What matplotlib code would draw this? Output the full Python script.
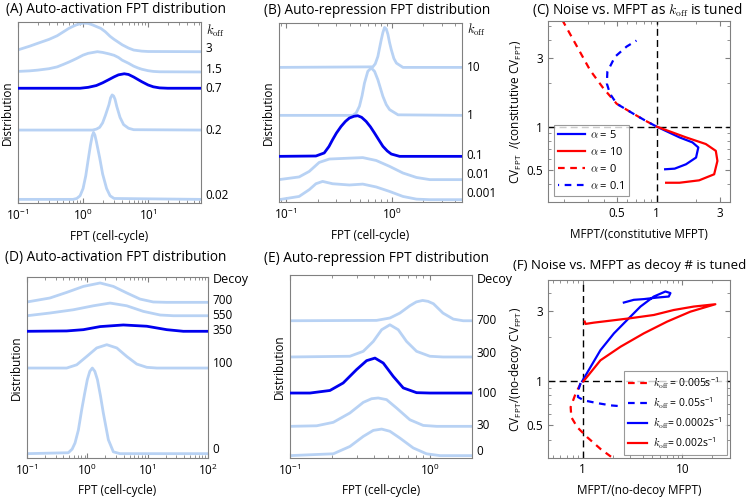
import numpy as np
import matplotlib
matplotlib.use('Agg')
import matplotlib.pyplot as plt
from matplotlib.transforms import blended_transform_factory
from matplotlib.ticker import FixedLocator, LogLocator, NullFormatter, FixedFormatter

plt.rcParams['font.family'] = ['Open Sans', 'DejaVu Sans']
plt.rcParams['mathtext.fontset'] = 'cm'
plt.rcParams['font.size'] = 8.5
plt.rcParams['axes.edgecolor'] = '0.5'
plt.rcParams['xtick.color'] = '0.5'
plt.rcParams['ytick.color'] = '0.5'
plt.rcParams['xtick.labelcolor'] = 'black'
plt.rcParams['ytick.labelcolor'] = 'black'

LIGHT = '#b8d2f4'
DARK = '#0000ee'

# ---------------- (A) auto-activation, k_off tuned ----------------
a_labels = ['0.02', '0.2', '0.7', '1.5', '3']
a_base = [2.0, 40.3, 63.4, 72.4, 83.6]
a_laby = [4.4, 40.3, 63.0, 73.5, 85.6]
a_x = [
    [0.1, 0.7, 0.8, 0.9, 1.0, 1.1, 1.2, 1.3, 1.38, 1.45, 1.52, 1.6, 1.8, 2.0, 2.3, 2.6, 3.0, 65],
    [0.1, 1.4, 1.6, 1.8, 2.0, 2.2, 2.5, 2.65, 2.8, 2.95, 3.1, 3.3, 3.7, 4.2, 5.0, 6.0, 65],
    [0.1, 0.9, 1.2, 1.6, 2, 2.5, 3, 3.5, 4.3, 5, 6, 7, 8, 10, 12, 15, 20, 65],
    [0.1, 0.15, 0.2, 0.3, 0.4, 0.5, 0.6, 0.7, 0.8, 1.0, 1.2, 1.66, 2, 2.5, 3, 3.5, 4, 5, 6, 7, 8, 10, 12, 15, 65],
    [0.1, 0.15, 0.2, 0.3, 0.4, 0.5, 0.6, 0.7, 0.8, 1.0, 1.2, 1.4, 1.6, 1.87, 2.2, 2.6, 3.0, 3.4, 4, 5, 6, 8, 10, 65],
]
a_h = [
    [0, 0, 0.5, 2, 6, 13, 22, 30, 35, 37, 35.5, 32, 23, 14, 6, 2, 0.5, 0],
    [0, 0, 0.5, 1.5, 4, 8, 14, 17.8, 19.4, 18.8, 17, 13, 7, 3, 1, 0.2, 0],
    [0, 0, 0.5, 1.5, 3, 4.8, 6.3, 7.4, 8, 7.6, 6.2, 4.8, 3.6, 1.8, 0.8, 0.2, 0, 0],
    [0.3, 0.6, 1.0, 1.8, 2.8, 4.2, 5.4, 6.5, 7.5, 9.3, 10.3, 11.2, 10.8, 10, 9.2, 8, 6.5, 4.8, 3.2, 2.2, 1.5, 0.7, 0.3, 0.1, 0],
    [1.0, 3.0, 4.6, 6.8, 8.8, 11, 12.8, 14, 14.9, 15.8, 15.6, 14.8, 13.9, 12.9, 11, 8.5, 6.8, 5.5, 3.8, 2.0, 0.9, 0.3, 0.1, 0],
]

# ---------------- (B) auto-repression, k_off tuned ----------------
b_labels = ['0.001', '0.01', '0.1', '1', '10']
b_base = [1.3, 12.5, 25.5, 48.4, 75.2]
b_laby = [4.6, 15.6, 26.0, 48.4, 75.2]
b_x = [
    [0.0858, 0.133, 0.166, 0.192, 0.222, 0.276, 0.398, 0.533, 0.714, 0.957, 1.28, 1.72, 2.30, 4.64],
    [0.0858, 0.133, 0.166, 0.206, 0.257, 0.398, 0.533, 0.714, 0.957, 1.28, 1.72, 2.30, 4.64],
    [0.0858, 0.192, 0.230, 0.255, 0.276, 0.300, 0.332, 0.365, 0.398, 0.44, 0.478, 0.52, 0.574, 0.63,
     0.689, 0.76, 0.827, 0.91, 0.993, 1.19, 4.64],
    [0.0858, 0.428, 0.461, 0.496, 0.525, 0.553, 0.595, 0.641, 0.689, 0.741, 0.785, 0.827, 0.89, 0.957, 1.15, 4.64],
    [0.0858, 0.664, 0.70, 0.741, 0.77, 0.798, 0.827, 0.857, 0.889, 0.922, 0.955, 0.993, 1.05, 1.11, 1.28, 4.64],
]
b_h = [
    [0, 1.8, 5.6, 8.9, 10.2, 8.9, 8.2, 8.7, 7.1, 4.6, 1.8, 0.3, 0, 0],
    [0, 1.5, 4.6, 9.6, 11.5, 12, 12.3, 10.7, 7.4, 3.7, 1.2, 0, 0],
    [0, 0.2, 1.9, 5.5, 9.3, 13, 16.7, 19.5, 21.4, 22.4, 22.7, 21.8, 19.5, 16.5, 13, 9, 5.6, 3, 1.3, 0, 0],
    [0, 0, 1.3, 5.1, 11, 18, 24.6, 26.5, 24.6, 19.9, 15, 10.6, 6, 3.2, 0.3, 0],
    [0, 0.3, 2, 6.1, 11, 15.5, 19.5, 22.3, 21.5, 18.5, 14, 9.9, 5, 2.4, 0, 0],
]

# ---------------- (C) noise vs MFPT, k_off tuned ----------------
c_a5_x = [1.0, 1.49, 1.87, 2.07, 1.99, 1.67, 1.37, 1.16]
c_a5_y = [1.0, 0.842, 0.777, 0.717, 0.610, 0.548, 0.511, 0.506]
c_a10_x = [1.0, 1.67, 2.36, 2.81, 2.89, 2.73, 2.10, 1.49, 1.18]
c_a10_y = [1.0, 0.842, 0.757, 0.679, 0.578, 0.467, 0.424, 0.408, 0.408]
c_a0_x = [0.192, 0.249, 0.313, 0.395, 0.498, 0.664, 0.836, 1.0]
c_a0_y = [5.51, 3.59, 2.46, 1.84, 1.44, 1.23, 1.09, 1.0]
c_a01_x = [0.703, 0.592, 0.483, 0.423, 0.419, 0.443, 0.498, 0.664, 0.836, 1.0]
c_a01_y = [3.95, 3.59, 3.05, 2.40, 1.99, 1.69, 1.44, 1.23, 1.09, 1.0]

# ---------------- (D) auto-activation, decoys tuned ----------------
d_labels = ['0', '100', '350', '550', '700']
d_base = [2.4, 49.7, 70.0, 78.6, 86.0]
d_laby = [4.6, 52.2, 70.3, 78.6, 86.9]
d_x = [
    [0.1, 0.484, 0.56, 0.625, 0.71, 0.807, 0.9, 1.0, 1.1, 1.21, 1.33, 1.47, 1.65, 1.84, 2.23, 2.70, 3.48, 100],
    [0.1, 0.455, 0.667, 0.977, 1.43, 2.10, 3.08, 4.50, 6.60, 9.67, 14.2, 100],
    [0.1, 0.455, 0.859, 1.63, 3.95, 9.67, 20.7, 39, 100],
    [0.1, 0.240, 0.586, 1.26, 2.38, 4.50, 8.49, 16.1, 26.7, 100],
    [0.1, 0.24, 0.455, 0.859, 1.63, 2.70, 4.50, 7.48, 12.4, 20.7, 100],
]
d_h = [
    [0, 0.5, 2.5, 5.9, 13, 24.3, 33, 40.9, 45.5, 47.3, 45.5, 40.9, 32, 22.5, 7.7, 1, 0, 0],
    [0, 0, 1.8, 6.4, 11.1, 12.9, 11.1, 6.4, 2.2, 0.4, 0, 0],
    [0, 0.2, 0.9, 2.6, 3.5, 2.8, 0.9, 0, 0],
    [0, 1.5, 3.3, 5.5, 7.0, 5.5, 2.4, 0.4, 0, 0],
    [0.2, 2.4, 5.5, 8.8, 10.7, 8.8, 5.2, 1.8, 0.2, 0, 0],
]

# ---------------- (E) auto-repression, decoys tuned ----------------
e_labels = ['0', '30', '100', '300', '700']
e_base = [1.3, 17.3, 35.5, 55.2, 75.0]
e_laby = [3.6, 17.6, 35.1, 57.0, 75.0]
e_x = [
    [0.1, 0.204, 0.268, 0.334, 0.394, 0.452, 0.518, 0.610, 0.760, 0.946, 1.18, 2],
    [0.1, 0.155, 0.204, 0.268, 0.334, 0.383, 0.427, 0.490, 0.578, 0.719, 0.896, 1.12, 2],
    [0.1, 0.139, 0.193, 0.240, 0.299, 0.353, 0.405, 0.464, 0.547, 0.645, 0.803, 1.0, 2],
    [0.1, 0.268, 0.334, 0.394, 0.452, 0.518, 0.594, 0.681, 0.803, 1.0, 1.24, 2],
    [0.1, 0.416, 0.518, 0.610, 0.719, 0.80, 0.887, 0.97, 1.06, 1.24, 1.47, 1.73, 2],
]
e_h = [
    [0, 1, 5, 10.5, 13.8, 14.5, 13.3, 9.6, 4.2, 1, 0, 0],
    [0, 0.3, 2.2, 7.3, 13.1, 15.1, 15.5, 14.6, 10, 3.6, 0.5, 0, 0],
    [0, 0, 1.4, 5.5, 12.8, 17.7, 19.1, 16.4, 9.1, 2.8, 0.2, 0, 0],
    [0, 0.4, 3.1, 8.5, 14.9, 17.6, 14.9, 8.5, 3.1, 0.4, 0, 0],
    [0, 0.2, 1.5, 4.2, 8.2, 10.3, 11.1, 10.6, 9.3, 4.2, 0.9, 0, 0],
]

# ---------------- (F) noise vs MFPT, decoys tuned ----------------
f_k0002_x = [0.99, 1.20, 1.51, 2.06, 2.80, 3.80, 5.17, 6.76, 7.59, 7.30, 5.58, 4.10, 3.26, 2.59]
f_k0002_y = [1.0, 1.25, 1.63, 2.12, 2.62, 3.23, 3.78, 4.09, 3.99, 3.78, 3.72, 3.63, 3.59, 3.44]
f_k002_x = [1.02, 1.51, 2.40, 4.10, 7.03, 12.0, 21.4, 13.0, 8.19, 5.17, 3.02, 1.91, 1.30, 1.07, 1.05]
f_k002_y = [1.0, 1.39, 1.72, 2.12, 2.55, 2.98, 3.35, 3.23, 3.06, 2.83, 2.69, 2.59, 2.51, 2.46, 2.55]
f_k005_x = [0.955, 0.851, 0.759, 0.771, 0.885, 1.11, 1.51, 2.06]
f_k005_y = [0.964, 0.824, 0.667, 0.569, 0.486, 0.416, 0.346, 0.296]
f_k05_x = [0.955, 0.905, 0.898, 1.03, 1.40, 1.91, 2.49]
f_k05_y = [0.974, 0.868, 0.781, 0.741, 0.710, 0.685, 0.675]

W, H = 748, 498
fig = plt.figure(figsize=(7.48, 4.98), dpi=100)


def box(l, t, r, b):
    return fig.add_axes([l / W, 1 - b / H, (r - l) / W, (b - t) / H])


def title(x, y, s, ha='center', size=9.8):
    fig.text(x / W, 1 - y / H, s, ha=ha, va='center', fontsize=size)


def dist_panel(ax, xs, hs, base, dark, labels, laby, head, heady, xlim):
    for i, (x, h) in enumerate(zip(xs, hs)):
        if i == dark:
            ax.plot(x, np.add(h, base[i]), color=DARK, lw=2.0, zorder=3)
        else:
            ax.plot(x, np.add(h, base[i]), color=LIGHT, lw=2.0)
    ax.set_xscale('log')
    ax.set_xlim(xlim)
    ax.set_ylim(0, 100)
    ax.set_yticks([])
    tr = blended_transform_factory(ax.transAxes, ax.transData)
    for lab, y in zip(labels, laby):
        ax.text(1.025, y, lab, transform=tr, ha='left', va='center', fontsize=8.5, clip_on=False)
    ax.text(1.025, heady, head, transform=tr, ha='left', va='center', fontsize=9, clip_on=False)
    ax.set_xlabel('FPT (cell-cycle)', labelpad=5, fontsize=8.5)
    ax.set_ylabel('Distribution', labelpad=3, fontsize=8.5)
    ax.xaxis.set_major_locator(LogLocator(base=10))
    ax.xaxis.set_minor_locator(LogLocator(base=10, subs=np.arange(2, 10)))
    ax.xaxis.set_minor_formatter(NullFormatter())
    ax.tick_params(which='both', direction='in', top=True, length=2.5)
    ax.tick_params(which='major', length=3.5)


def noise_panel(ax, xlim, ylim, xt, yt):
    ax.set_xscale('log')
    ax.set_yscale('log')
    ax.set_xlim(xlim)
    ax.set_ylim(ylim)
    ax.axvline(1, color='k', ls=(0, (5, 3)), lw=1)
    ax.axhline(1, color='k', ls=(0, (5, 3)), lw=1)
    for axis, t in ((ax.xaxis, xt), (ax.yaxis, yt)):
        axis.set_major_locator(FixedLocator(t))
        axis.set_major_formatter(FixedFormatter([('%g' % v) for v in t]))
        axis.set_minor_locator(LogLocator(base=10, subs=np.arange(1, 10)))
        axis.set_minor_formatter(NullFormatter())
    ax.tick_params(which='both', direction='in', top=True, right=True, length=2.5)
    ax.tick_params(which='major', length=3.5)


kh = r'$k_{\rm off}$'

# (A)
ax = box(18, 22, 201, 203)
dist_panel(ax, a_x, a_h, a_base, 2, a_labels, a_laby, kh, 95, (0.1, 65))
title(116, 10, '(A) Auto-activation FPT distribution')

# (B)
ax = box(279, 23, 462, 202)
dist_panel(ax, b_x, b_h, b_base, 2, b_labels, b_laby, kh, 95.9, (0.0858, 4.64))
title(377, 10, '(B) Auto-repression FPT distribution')

# (C)
ax = box(548, 21, 730, 202)
noise_panel(ax, (0.15, 3.6), (0.3, 5.4), [0.5, 1, 3], [0.5, 1, 3])
ax.plot(c_a5_x, c_a5_y, color='#0000ff', lw=1.6, label=r'$\alpha$ = 5')
ax.plot(c_a10_x, c_a10_y, color='#ff0000', lw=1.6, label=r'$\alpha$ = 10')
ax.plot(c_a0_x, c_a0_y, color='#ff0000', lw=1.6, ls=(0, (3, 2.5)), label=r'$\alpha$ = 0')
ax.plot(c_a01_x, c_a01_y, color='#0000ff', lw=1.6, ls=(2.5, (3, 2.5)), label=r'$\alpha$ = 0.1')
leg = ax.legend(loc='lower left', fontsize=8, handlelength=2.4, fancybox=False,
                edgecolor='0.5', borderaxespad=0.5, labelspacing=0.45, handletextpad=0.5)
leg.get_frame().set_linewidth(0.8)
ax.set_xlabel('MFPT/(constitutive MFPT)', labelpad=6, fontsize=8.5)
ax.set_ylabel(r'CV$_{\mathdefault{FPT}}$  /(constitutive CV$_{\mathdefault{FPT}}$)', labelpad=2, fontsize=8.5)
title(637, 10, r'(C) Noise vs. MFPT as $k_{\rm off}$ is tuned')

# (D)
ax = box(27, 277, 208, 458)
dist_panel(ax, d_x, d_h, d_base, 2, d_labels, d_laby, 'Decoy', 98.6, (0.1, 100))
ax.xaxis.labelpad = 4
title(116, 258, '(D) Auto-activation FPT distribution')

# (E)
ax = box(290, 275, 472, 458)
dist_panel(ax, e_x, e_h, e_base, 2, e_labels, e_laby, 'Decoy', 97.8, (0.1, 2))
ax.xaxis.labelpad = 4
title(377, 258, '(E) Auto-repression FPT distribution')

# (F)
ax = box(548, 280, 730, 458)
noise_panel(ax, (0.45, 30), (0.3, 4.9), [1, 10], [0.5, 1, 3])
ax.plot(f_k005_x, f_k005_y, color='#ff0000', lw=1.6, ls=(0, (3, 2.5)), label=kh + r' = 0.005s$^{\mathdefault{-1}}$')
ax.plot(f_k05_x, f_k05_y, color='#0000ff', lw=1.6, ls=(0, (3, 2.5)), label=kh + r' = 0.05s$^{\mathdefault{-1}}$')
ax.plot(f_k0002_x, f_k0002_y, color='#0000ff', lw=1.6, label=kh + r'= 0.0002s$^{\mathdefault{-1}}$')
ax.plot(f_k002_x, f_k002_y, color='#ff0000', lw=1.6, label=kh + r'= 0.002s$^{\mathdefault{-1}}$')
leg = ax.legend(loc='lower right', fontsize=7.5, handlelength=1.8, fancybox=False,
                edgecolor='0.5', borderaxespad=0.3, labelspacing=0.45, handletextpad=0.6)
leg.get_frame().set_linewidth(0.8)
ax.set_xlabel('MFPT/(no-decoy MFPT)', labelpad=6, fontsize=8.5)
ax.set_ylabel(r'CV$_{\mathdefault{FPT}}$/(no-decoy CV$_{\mathdefault{FPT}}$)', labelpad=2, fontsize=8.5)
title(746, 266, '(F) Noise vs. MFPT as decoy # is tuned', ha='right', size=9.5)

fig.savefig('out.png', dpi=100)
